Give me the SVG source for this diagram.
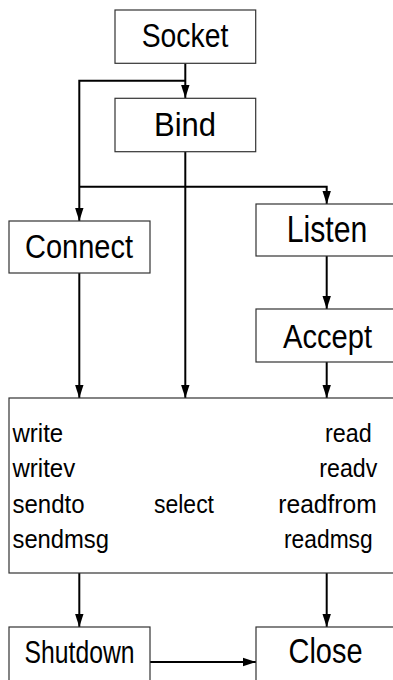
<svg xmlns="http://www.w3.org/2000/svg" width="393" height="680" viewBox="0 0 393 680">
<style>
.box{fill:#fff;stroke:#333;stroke-width:1.2}
.lbl{font-family:"Liberation Sans",Arial,sans-serif;fill:#000}
.big{font-size:34px}
.body{font-size:25.5px}
.con{fill:none;stroke:#000;stroke-width:2}
</style>
<defs>
<marker id="ah" viewBox="0 0 13 10" refX="13" refY="5" markerWidth="13" markerHeight="10" markerUnits="userSpaceOnUse" orient="auto">
<path d="M0,0.8 L13,5 L0,9.2 Z" fill="#000"/>
</marker>
</defs>
<rect width="393" height="680" fill="#fff"/>
<g id="connectors">
<line class="con" x1="185.3" y1="63" x2="185.3" y2="98" marker-end="url(#ah)"/>
<polyline class="con" points="185.3,80.7 79.3,80.7 79.3,221" marker-end="url(#ah)"/>
<line class="con" x1="185.3" y1="151.7" x2="185.3" y2="398" marker-end="url(#ah)"/>
<polyline class="con" points="79.3,186.7 326.7,186.7 326.7,204" marker-end="url(#ah)"/>
<line class="con" x1="79.3" y1="273" x2="79.3" y2="398" marker-end="url(#ah)"/>
<line class="con" x1="326.7" y1="256" x2="326.7" y2="309" marker-end="url(#ah)"/>
<line class="con" x1="326.7" y1="362" x2="326.7" y2="398" marker-end="url(#ah)"/>
<line class="con" x1="79.3" y1="573" x2="79.3" y2="627" marker-end="url(#ah)"/>
<line class="con" x1="326.7" y1="573" x2="326.7" y2="627" marker-end="url(#ah)"/>
<line class="con" x1="150" y1="662" x2="256" y2="662" marker-end="url(#ah)"/>
</g>
<g id="socket">
<rect class="box" x="115" y="10" width="140.7" height="53.3"/>
<text class="lbl big" x="141.7" y="47.3" textLength="86.6" lengthAdjust="spacingAndGlyphs">Socket</text>
</g>
<g id="bind">
<rect class="box" x="115" y="98.3" width="140.7" height="53.4"/>
<text class="lbl big" x="154" y="136" textLength="62" lengthAdjust="spacingAndGlyphs">Bind</text>
</g>
<g id="connect">
<rect class="box" x="9" y="221" width="141" height="52"/>
<text class="lbl big" x="25" y="257.7" textLength="108" lengthAdjust="spacingAndGlyphs">Connect</text>
</g>
<g id="listen">
<rect class="box" x="256" y="204" width="145" height="52"/>
<text class="lbl" style="font-size:36px" x="286.7" y="241.7" textLength="80.6" lengthAdjust="spacingAndGlyphs">Listen</text>
</g>
<g id="accept">
<rect class="box" x="256" y="309" width="145" height="53"/>
<text class="lbl big" x="283" y="348.3" textLength="89" lengthAdjust="spacingAndGlyphs">Accept</text>
</g>
<g id="io">
<rect class="box" x="9" y="398" width="392" height="175"/>
<text class="lbl body" x="12.5" y="441.5" textLength="50.7" lengthAdjust="spacingAndGlyphs">write</text>
<text class="lbl body" x="12.5" y="477" textLength="62.7" lengthAdjust="spacingAndGlyphs">writev</text>
<text class="lbl body" x="12.5" y="512.5" textLength="72" lengthAdjust="spacingAndGlyphs">sendto</text>
<text class="lbl body" x="12.5" y="548" textLength="96.5" lengthAdjust="spacingAndGlyphs">sendmsg</text>
<text class="lbl body" x="154" y="513" textLength="60" lengthAdjust="spacingAndGlyphs">select</text>
<text class="lbl body" x="325" y="441.5" textLength="46.7" lengthAdjust="spacingAndGlyphs">read</text>
<text class="lbl body" x="319.3" y="477" textLength="58" lengthAdjust="spacingAndGlyphs">readv</text>
<text class="lbl body" x="278.3" y="512.5" textLength="98.4" lengthAdjust="spacingAndGlyphs">readfrom</text>
<text class="lbl body" x="284" y="548" textLength="88.7" lengthAdjust="spacingAndGlyphs">readmsg</text>
</g>
<g id="shutdown">
<rect class="box" x="9" y="627" width="141" height="60"/>
<text class="lbl" style="font-size:32px" x="24.5" y="663.3" textLength="110" lengthAdjust="spacingAndGlyphs">Shutdown</text>
</g>
<g id="close">
<rect class="box" x="256" y="627" width="145" height="60"/>
<text class="lbl" style="font-size:35px" x="288.5" y="663.3" textLength="74" lengthAdjust="spacingAndGlyphs">Close</text>
</g>
</svg>
